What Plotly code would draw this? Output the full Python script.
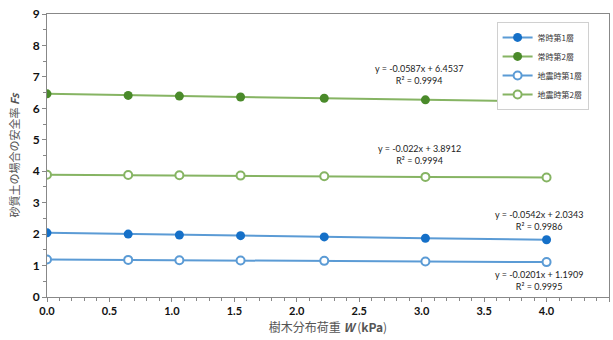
import plotly.graph_objects as go

W = [0.0, 0.65, 1.06, 1.55, 2.22, 3.03, 4.0]
jo1 = [2.04, 2.00, 1.97, 1.95, 1.91, 1.87, 1.82]
jo2 = [6.46, 6.41, 6.39, 6.36, 6.32, 6.27, 6.22]
ji1 = [1.19, 1.18, 1.17, 1.16, 1.15, 1.13, 1.11]
ji2 = [3.89, 3.88, 3.87, 3.86, 3.84, 3.82, 3.80]
names = ["常時第1層", "常時第2層", "地震時第1層", "地震時第2層"]
eqs = ["y = -0.0587x + 6.4537<br>R² = 0.9994",
       "y = -0.022x + 3.8912<br>R² = 0.9994",
       "y = -0.0542x + 2.0343<br>R² = 0.9986",
       "y = -0.0201x + 1.1909<br>R² = 0.9995"]

blue_line = "#5b9bd5"
blue_mk = "#1570c8"
green_line = "#86b463"
green_mk = "#4a8a2a"

fig = go.Figure()
fig.add_trace(go.Scatter(x=W, y=jo1, name=names[0], mode="lines+markers",
                         line=dict(color=blue_line, width=2),
                         marker=dict(symbol="circle", size=9, color=blue_mk)))
fig.add_trace(go.Scatter(x=W, y=jo2, name=names[1], mode="lines+markers",
                         line=dict(color=green_line, width=2),
                         marker=dict(symbol="circle", size=9, color=green_mk)))
fig.add_trace(go.Scatter(x=W, y=ji1, name=names[2], mode="lines+markers",
                         line=dict(color=blue_line, width=2),
                         marker=dict(symbol="circle", size=8, color="white",
                                     line=dict(color=blue_line, width=2))))
fig.add_trace(go.Scatter(x=W, y=ji2, name=names[3], mode="lines+markers",
                         line=dict(color=green_line, width=2),
                         marker=dict(symbol="circle", size=8, color="white",
                                     line=dict(color=green_line, width=2))))

ann_pos = [(2.98, 7.07), (2.98, 4.52), (3.94, 2.44), (3.94, 0.54)]
for (ax_, ay_), t in zip(ann_pos, eqs):
    fig.add_annotation(x=ax_, y=ay_, text=t, showarrow=False, xref="x", yref="y",
                       font=dict(size=9, color="#222222", family="Lato"),
                       align="center")

fig.update_layout(
    width=613, height=340,
    margin=dict(l=47, r=4, t=14, b=43),
    paper_bgcolor="white", plot_bgcolor="white",
    font=dict(family="Noto Sans CJK JP", size=10, color="#222222"),
    showlegend=True,
    legend=dict(x=0.80, y=0.972, xanchor="left", yanchor="top",
                bgcolor="white", bordercolor="#d0d0d0", borderwidth=1,
                font=dict(size=8, color="#333333", family="Noto Sans CJK JP"),
                tracegroupgap=0, itemwidth=30),
    xaxis=dict(range=[0, 4.5], dtick=0.5, tickformat=".1f",
               showgrid=False, zeroline=False, showline=True, linecolor="#888888",
               linewidth=1, mirror=True, ticks="outside", ticklen=4, tickcolor="#888888",
               minor=dict(dtick=0.1, ticks="outside", ticklen=3, tickcolor="#888888"),
               tickfont=dict(family="Lato", size=11, color="#111111", weight="bold"),
               title=dict(text="樹木分布荷重 <b><i>W</i></b> (<b>kPa</b>)", standoff=7,
                          font=dict(size=12, color="#555555"))),
    yaxis=dict(range=[0, 9], dtick=1,
               showgrid=False, zeroline=False, showline=True, linecolor="#888888",
               linewidth=1, mirror=True, ticks="outside", ticklen=4, tickcolor="#888888",
               minor=dict(dtick=0.5, ticks="outside", ticklen=3, tickcolor="#888888"),
               tickfont=dict(family="Lato", size=12, color="#111111", weight="bold"),
               title=dict(text="砂質土の場合の安全率 <b><i>Fs</i></b>", standoff=10,
                          font=dict(size=11, color="#555555"))),
)

fig.write_html("out.html", config={"displayModeBar": False},
               post_script="document.body.style.margin='0';")
